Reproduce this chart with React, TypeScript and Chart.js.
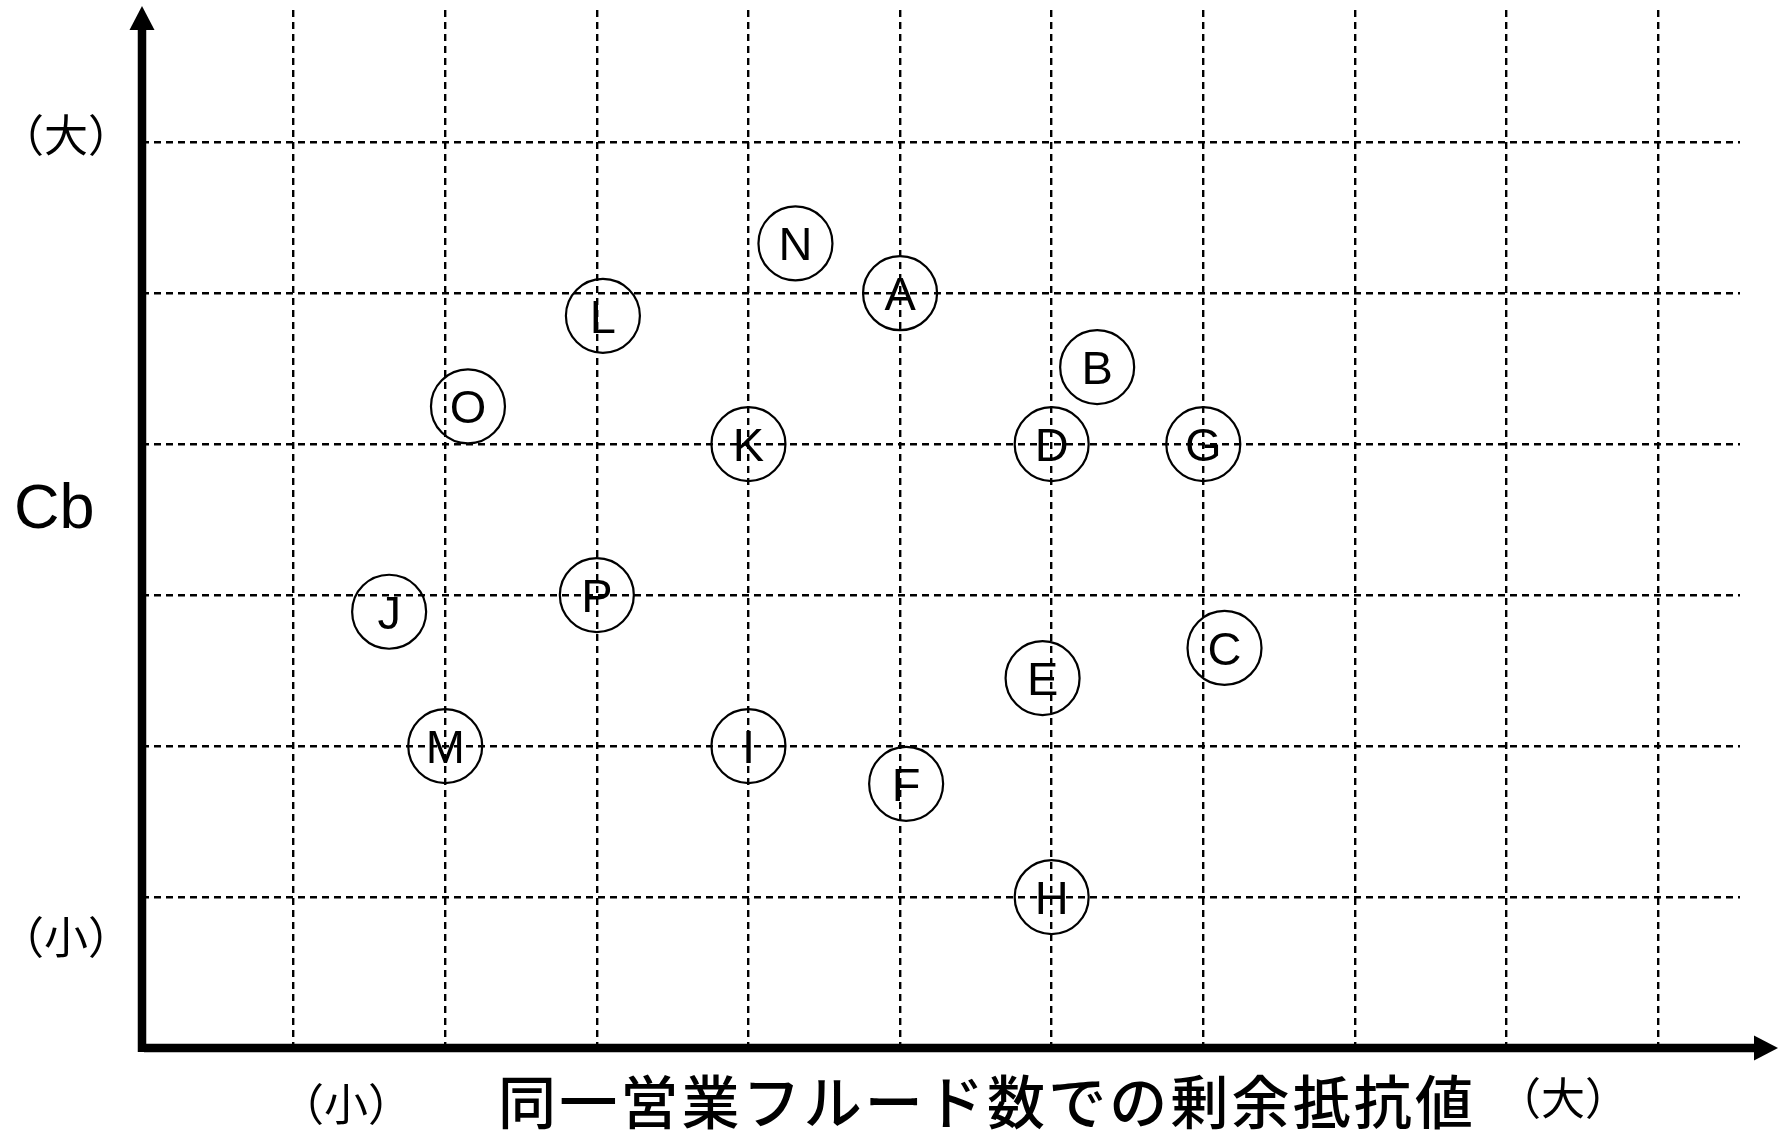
import React, { useEffect, useRef } from 'react';
import { Chart, registerables } from 'chart.js';

Chart.register(...registerables);

// ---- data ----
const pointLabels = ['A', 'B', 'C', 'D', 'E', 'F', 'G', 'H', 'I', 'J', 'K', 'L', 'M', 'N', 'O', 'P'];
const xValues = [5.0, 6.3, 7.14, 6.0, 5.94, 5.04, 7.0, 6.0, 4.0, 1.63, 4.0, 3.04, 2.0, 4.31, 2.15, 3.0];
const yValues = [5.0, 4.51, 2.65, 4.0, 2.45, 1.75, 4.0, 1.0, 2.0, 2.89, 4.0, 4.85, 2.0, 5.33, 4.25, 3.0];
const xGridTicks = [1, 2, 3, 4, 5, 6, 7, 8, 9, 10];
const yGridTicks = [1, 2, 3, 4, 5, 6];
const xAxisMax = 10.54;
const yAxisMax = 6.876;
const yAxisTitle = 'Cb';
const xAxisTitle = '同一営業フルード数での剰余抵抗値';
const highLabel = '（大）';
const lowLabel = '（小）';

const CJK = '"Noto Sans CJK JP", "Noto Sans CJK SC", sans-serif';
const LATIN = '"Liberation Sans", Arial, sans-serif';

const labelPlugin = {
  id: 'letters',
  afterDatasetsDraw(chart: any) {
    const ctx = chart.ctx;
    const meta = chart.getDatasetMeta(0);
    ctx.save();
    ctx.fillStyle = '#000';
    ctx.font = `47px ${LATIN}`;
    ctx.textAlign = 'center';
    ctx.textBaseline = 'alphabetic';
    meta.data.forEach((el: any, i: number) => {
      ctx.fillText(pointLabels[i], el.x, el.y + 47 * 0.36);
    });
    ctx.restore();
  },
};

const axesPlugin = {
  id: 'arrowAxes',
  afterDraw(chart: any) {
    const ctx = chart.ctx;
    const xs = chart.scales.x;
    const ys = chart.scales.y;
    const x0 = xs.getPixelForValue(0);
    const y0 = ys.getPixelForValue(0);
    ctx.save();
    ctx.setLineDash([]);
    ctx.strokeStyle = '#000';
    ctx.fillStyle = '#000';
    ctx.lineWidth = 8.5;
    ctx.lineCap = 'butt';
    // y axis
    ctx.beginPath();
    ctx.moveTo(x0, y0 + 4);
    ctx.lineTo(x0, 28);
    ctx.stroke();
    ctx.beginPath();
    ctx.moveTo(x0, 6);
    ctx.lineTo(x0 - 12.5, 30);
    ctx.lineTo(x0 + 12.5, 30);
    ctx.closePath();
    ctx.fill();
    // x axis
    ctx.beginPath();
    ctx.moveTo(x0 + 2, y0);
    ctx.lineTo(1756, y0);
    ctx.stroke();
    ctx.beginPath();
    ctx.moveTo(1778, y0);
    ctx.lineTo(1754, y0 - 12.5);
    ctx.lineTo(1754, y0 + 12.5);
    ctx.closePath();
    ctx.fill();

    // texts
    ctx.textBaseline = 'middle';
    ctx.textAlign = 'center';
    ctx.font = `44px ${CJK}`;
    ctx.fillText(highLabel, 66, 135);
    ctx.fillText(lowLabel, 66, 937);
    ctx.fillText(lowLabel, 346, 1104);
    ctx.fillText(highLabel, 1563, 1098);

    ctx.textAlign = 'left';
    ctx.textBaseline = 'alphabetic';
    ctx.font = `63px ${LATIN}`;
    ctx.fillText(yAxisTitle, 14, 528);

    // x title
    ctx.font = `500 58px ${CJK}`;
    const target = 975;
    const chars = Array.from(xAxisTitle);
    const w = ctx.measureText(xAxisTitle).width;
    const gap = (target - w) / (chars.length - 1);
    let cx = 498;
    ctx.textBaseline = 'middle';
    for (const ch of chars) {
      ctx.fillText(ch, cx, 1102);
      cx += ctx.measureText(ch).width + gap;
    }
    ctx.restore();
  },
};

export default function App() {
  const ref = useRef<HTMLCanvasElement | null>(null);
  useEffect(() => {
    if (!ref.current) return;
    const chart = new Chart(ref.current, {
      type: 'scatter',
      data: {
        datasets: [
          {
            data: xValues.map((x, i) => ({ x, y: yValues[i] })),
            pointStyle: 'circle',
            pointRadius: 37,
            pointBorderWidth: 2.2,
            pointBorderColor: '#000',
            pointBackgroundColor: 'rgba(0,0,0,0)',
            clip: false,
          } as any,
        ],
      },
      options: {
        responsive: false,
        animation: false,
        events: [],
        layout: { autoPadding: false, padding: { left: 142, right: 46, top: 10, bottom: 88 } },
        plugins: { legend: { display: false }, tooltip: { enabled: false }, title: { display: false } },
        scales: {
          x: {
            type: 'linear',
            min: 0,
            max: xAxisMax,
            ticks: { display: false },
            grid: { color: '#000', lineWidth: 2.4, drawTicks: false },
            border: { display: false, dash: [7, 5] },
            afterBuildTicks: (s: any) => {
              s.ticks = xGridTicks.map((v) => ({ value: v }));
            },
          },
          y: {
            type: 'linear',
            min: 0,
            max: yAxisMax,
            ticks: { display: false },
            grid: { color: '#000', lineWidth: 2.4, drawTicks: false },
            border: { display: false, dash: [7, 5] },
            afterBuildTicks: (s: any) => {
              s.ticks = yGridTicks.map((v) => ({ value: v }));
            },
          },
        },
      } as any,
      plugins: [labelPlugin, axesPlugin],
    });
    return () => chart.destroy();
  }, []);
  return (
    <div style={{ position: 'fixed', left: 0, top: 0, width: 1786, height: 1136, background: '#fff' }}>
      <canvas ref={ref} width={1786} height={1136} style={{ display: 'block' }} />
    </div>
  );
}
